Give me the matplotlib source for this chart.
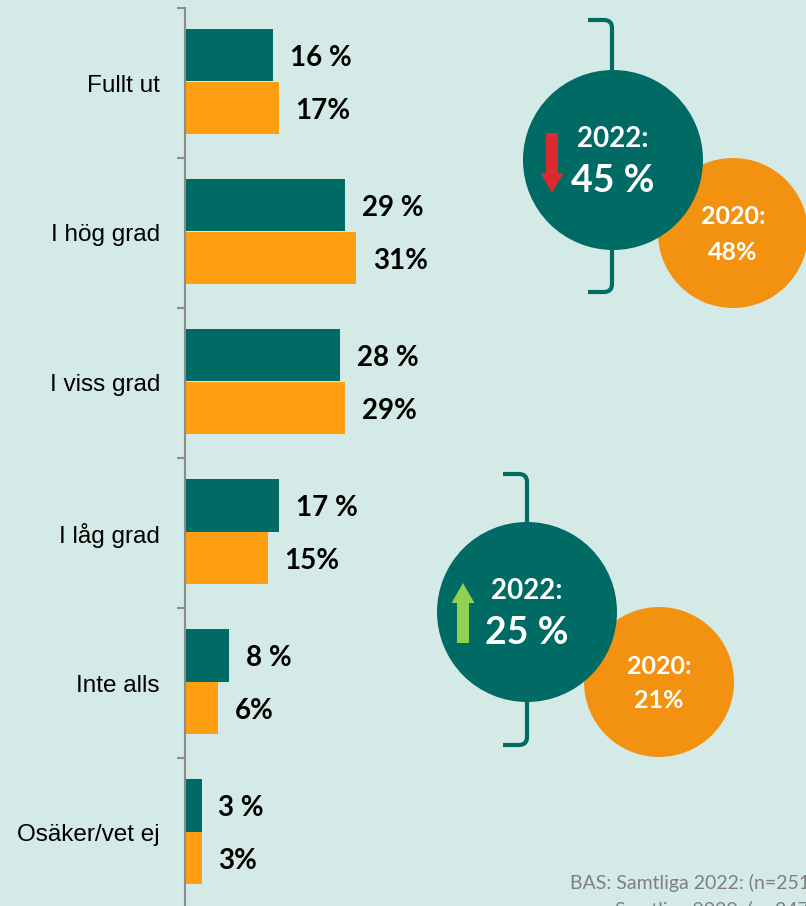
import matplotlib
matplotlib.use("Agg")
import matplotlib.pyplot as plt
from matplotlib.patches import Circle, FancyArrow, PathPatch
from matplotlib.path import Path
import numpy as np

# Survey answers, share of respondents (%)
categories = ["Fullt ut", "I hög grad", "I viss grad", "I låg grad", "Inte alls", "Osäker/vet ej"]
share_2022 = [16, 29, 28, 17, 8, 3]
share_2020 = [17, 31, 29, 15, 6, 3]

# Summary figures shown in the bubbles (top two / bottom two answers)
high_2022, high_2020 = 45, 48
low_2022, low_2020 = 25, 21
base_lines = ["BAS: Samtliga 2022: (n=2514)", "Samtliga 2020: (n=2473)"]

BG = "#d3eae7"
TEAL = "#006a65"
ORANGE_BAR = "#ff9e10"
ORANGE_CIRCLE = "#f39210"
RED = "#dc2a30"
GREEN = "#92d050"
AXIS_GREY = "#8c8c8c"

W, H = 806, 906
fig = plt.figure(figsize=(W / 100, H / 100), dpi=100)
fig.patch.set_facecolor(BG)

# ---- bar chart -------------------------------------------------------------
px_per_pct = 5.53
ax = fig.add_axes([185 / W, -2 / H, (W - 185) / W, 900 / H])
ax.set_facecolor("none")
ax.set_xlim(0, (W - 185) / px_per_pct)
ax.set_ylim(len(categories) - 0.5, -0.5)

y = np.arange(len(categories)) - 0.01
h = 0.353
ax.barh(y - h / 2, share_2022, height=h, color=TEAL, zorder=2)
ax.barh(y + h / 2, share_2020, height=h, color=ORANGE_BAR, zorder=2)

val_font = dict(family="Lato", weight="bold", size=20, color="black")
for yi, v in zip(y - h / 2, share_2022):
    ax.annotate(f"{v} %", (v, yi), xytext=(12, -2), textcoords="offset points",
                ha="left", va="center", **val_font)
for yi, v in zip(y + h / 2, share_2020):
    ax.annotate(f"{v}%", (v, yi), xytext=(12, -2), textcoords="offset points",
                ha="left", va="center", **val_font)

for s in ["top", "right", "bottom"]:
    ax.spines[s].set_visible(False)
ax.spines["left"].set_color(AXIS_GREY)
ax.spines["left"].set_linewidth(1.5)
ax.set_xticks([])
ax.set_yticks(np.arange(len(categories)), categories)
ax.tick_params(axis="y", which="major", length=0, pad=18)
ax.set_yticks(np.arange(-0.5, len(categories), 1), minor=True)
ax.tick_params(axis="y", which="minor", length=6, width=1.5, color=AXIS_GREY)
for lab in ax.get_yticklabels():
    lab.set_fontfamily("Liberation Sans")
    lab.set_fontsize(17.5)
    lab.set_color("black")

# ---- bubbles, brackets and arrows (pixel coordinates) ----------------------
ov = fig.add_axes([0, 0, 1, 1])
ov.set_xlim(0, W)
ov.set_ylim(H, 0)
ov.axis("off")
ov.set_facecolor("none")


def bracket(x, y0, y1, arm=24, r=8):
    verts = [(x - arm, y0), (x - r, y0), (x, y0), (x, y0 + r),
             (x, y1 - r), (x, y1), (x - r, y1), (x - arm, y1)]
    codes = [Path.MOVETO, Path.LINETO, Path.CURVE3, Path.CURVE3,
             Path.LINETO, Path.CURVE3, Path.CURVE3, Path.LINETO]
    ov.add_patch(PathPatch(Path(verts, codes), fill=False, lw=3,
                           edgecolor=TEAL, capstyle="butt", zorder=1))


def bubble_group(cx, cy, ox, oy, v22, v20, arrow_color, up, bx, by0, by1, ax_x):
    bracket(bx, by0, by1)
    ov.add_patch(Circle((ox, oy), 75, color=ORANGE_CIRCLE, zorder=2, lw=0))
    ov.add_patch(Circle((cx, cy), 90, color=TEAL, zorder=3, lw=0))
    ov.text(cx, cy - 21, "2022:", ha="center", va="center", color="white",
            family="Lato", weight="bold", size=20, zorder=4)
    ov.text(cx, cy + 21, f"{v22} %", ha="center", va="center", color="white",
            family="Lato", weight="bold", size=27, zorder=4)
    ov.text(ox, oy - 16, "2020:", ha="center", va="center", color="white",
            family="Lato", weight="bold", size=18, zorder=4)
    ov.text(ox, oy + 19, f"{v20}%", ha="center", va="center", color="white",
            family="Lato", weight="bold", size=18, zorder=4)
    if up:
        start, d = cy + 31, -60
    else:
        start, d = cy - 27, 60
    ov.add_patch(FancyArrow(ax_x, start, 0, d, width=12, head_width=23,
                            head_length=20, length_includes_head=True,
                            color=arrow_color, lw=0, zorder=5))


bubble_group(613, 160, 733, 233, high_2022, high_2020, RED, False, 612, 20, 292, 552)
bubble_group(527, 612, 659, 682, low_2022, low_2020, GREEN, True, 527, 474, 745, 463)

# ---- base note -------------------------------------------------------------
note_font = dict(family="Lato", size=14, color="#7f7f7f", ha="left", va="baseline")
ov.text(570, 889, base_lines[0], **note_font)
ov.text(615, 916, base_lines[1], **note_font)

fig.savefig("out.png", dpi=100, facecolor=BG)
